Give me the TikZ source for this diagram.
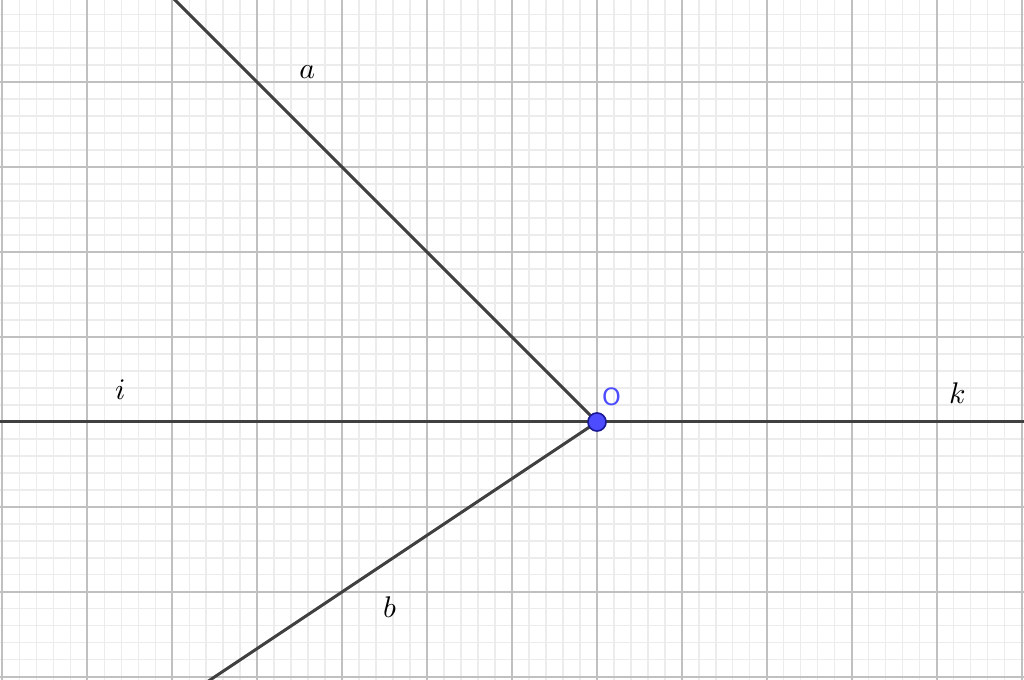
\documentclass[tikz,border=0pt]{standalone}
\usepackage{tikz}
\usepackage{fontspec}
\setsansfont{DejaVu Sans}
\usetikzlibrary{positioning}
\definecolor{linegray}{RGB}{64,64,64}
\definecolor{majorgray}{RGB}{192,192,192}
\definecolor{minorgray}{RGB}{236,236,236}
\definecolor{ptblue}{RGB}{77,77,255}
\definecolor{ptedge}{RGB}{26,26,153}
\tikzset{
  minorgrid/.style={minorgray, line width=0.35pt},
  majorgrid/.style={majorgray, line width=0.55pt},
  ray/.style={linegray, line width=1pt},
  pointdot/.style={circle, fill=ptblue, draw=ptedge, line width=0.5pt, inner sep=0pt, minimum size=6pt},
  linelabel/.style={inner sep=0pt},
}
\begin{document}
\begin{tikzpicture}
  \useasboundingbox (-7.024,-3.024) rectangle (5.024,4.965);
  \clip (-7.024,-3.024) rectangle (5.024,4.965);
  \fill[white] (-7.024,-3.024) rectangle (5.024,4.965);
  % grid
  \draw[minorgrid, step=0.2] (-7.2,-3.2) grid (5.2,5.2);
  \draw[majorgrid, step=1] (-8,-4) grid (6,6);

  \node[pointdot] (O) at (0,0) {};
  \coordinate (ia) at (-8,0);
  \coordinate (ka) at (6,0);
  \coordinate (aa) at (-6,6);
  \coordinate (ba) at (-6,-4);

  \draw[ray] (ia) -- (O.center) -- (ka);
  \draw[ray] (aa) -- (O.center);
  \draw[ray] (ba) -- (O.center);

  \node[pointdot] at (O) {};
  \node[linelabel] (la) at (-3.41,4.12) {$a$};
  \node[linelabel] (lb) at (-2.44,-2.18) {$b$};
  \node[linelabel] (li) at (-5.61,0.38) {$i$};
  \node[linelabel] (lk) at (4.24,0.34) {$k$};
  \node[linelabel, font=\sffamily\footnotesize, text=ptblue] (lO) at (0.17,0.3) {O};
\end{tikzpicture}
\end{document}
